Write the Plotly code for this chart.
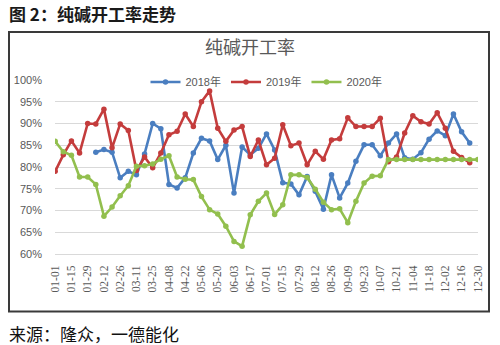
import plotly.graph_objects as go

weeks = ["01-01", "01-08", "01-15", "01-22", "01-29", "02-05", "02-12", "02-19", "02-26",
         "03-04", "03-11", "03-18", "03-25", "04-01", "04-08", "04-15", "04-22", "04-29",
         "05-06", "05-13", "05-20", "05-27", "06-03", "06-10", "06-17", "06-24", "07-01",
         "07-08", "07-15", "07-22", "07-29", "08-05", "08-12", "08-19", "08-26", "09-02",
         "09-09", "09-16", "09-23", "09-30", "10-07", "10-14", "10-21", "10-28", "11-04",
         "11-11", "11-18", "11-25", "12-02", "12-09", "12-16", "12-23", "12-30"]

tick_labels = ["01-01", "01-15", "01-29", "02-12", "02-26", "03-11", "03-25", "04-08", "04-22",
               "05-06", "05-20", "06-03", "06-17", "07-01", "07-15", "07-29", "08-12", "08-26",
               "09-09", "09-23", "10-07", "10-21", "11-04", "11-18", "12-02", "12-16", "12-30"]

rate_2018 = [None, None, None, None, None, 83.4, 84.0, 83.4, 77.5, 79.0, 78.2, 83.0, 90.0,
             88.8, 76.0, 75.2, 77.5, 83.2, 86.6, 86.0, 81.7, 85.0, 74.0, 84.6, 82.8, 84.3,
             87.6, 83.9, 76.4, 76.1, 73.6, 77.8, 74.4, 70.3, 78.2, 72.9, 76.3, 81.3, 85.1,
             85.1, 82.6, 85.5, 87.6, 82.1, 81.8, 83.3, 86.4, 88.3, 87.2, 92.2, 88.1, 85.5]

rate_2019 = [79.0, 82.8, 86.0, 83.2, 90.0, 89.9, 93.3, 84.4, 89.9, 88.4, 79.2, 82.3, 79.8,
             83.2, 87.4, 88.2, 92.2, 89.3, 95.0, 97.5, 88.9, 85.9, 88.5, 89.3, 82.4, 86.2,
             80.5, 82.0, 89.7, 84.9, 85.5, 80.5, 83.6, 81.8, 86.2, 86.5, 91.3, 89.3, 89.3,
             89.3, 91.2, 81.2, 82.3, 87.8, 91.8, 90.4, 89.9, 92.5, 88.9, 83.6, 82.2, 81.0]

rate_2020 = [85.9, 83.5, 82.7, 77.7, 77.7, 76.0, 68.7, 70.8, 73.4, 75.7, 80.2, 80.3, 80.7,
             81.8, 82.6, 77.7, 77.2, 77.1, 73.2, 70.2, 69.2, 66.4, 62.9, 61.8, 69.0, 72.1,
             74.0, 69.1, 71.3, 78.2, 78.2, 77.6, 74.9, 71.9, 70.2, 70.4, 67.2, 72.1, 76.3,
             77.9, 78.0, 81.7, 81.7, 81.7, 81.7, 81.7, 81.7, 81.7, 81.7, 81.7, 81.7, 81.7, 81.7]

series = [("2018年", rate_2018, "#4A7EC0"),
          ("2019年", rate_2019, "#C43C3C"),
          ("2020年", rate_2020, "#92BF4E")]

fig = go.Figure()
for name, vals, color in series:
    fig.add_trace(go.Scatter(
        x=weeks[:len(vals)], y=vals, name=name, mode="lines+markers",
        line=dict(color=color, width=2.6),
        marker=dict(color=color, size=5.5, symbol="circle"),
        connectgaps=False,
    ))

# plot area in pixels: x 55..478, y 80..254.3
L, R, T, B = 55, 478, 80, 254.3
W, H = R - L, B - T

def px(x):
    return (x - L) / W

def py(y):
    return (B - y) / H

gray = "#595959"
fig.update_layout(
    width=500, height=345,
    margin=dict(l=L, r=500 - R, t=T, b=345 - B, pad=0),
    paper_bgcolor="white", plot_bgcolor="white",
    showlegend=True,
    legend=dict(orientation="h", x=0.5, xanchor="center", y=py(82), yanchor="middle",
                bgcolor="rgba(0,0,0,0)", font=dict(family="Liberation Sans, Noto Sans CJK SC",
                                                   size=11, color=gray),
                itemwidth=30, tracegroupgap=0),
    title=dict(text="纯碱开工率", x=0.5, xanchor="center", y=1 - 48 / 345, yanchor="middle",
               font=dict(family="Noto Sans CJK SC", size=18, color=gray)),
    font=dict(family="Liberation Sans", color=gray),
)

fig.update_xaxes(
    type="category", categoryorder="array", categoryarray=weeks,
    range=[-0.02, len(weeks) - 1 + 0.02],
    tickmode="array", tickvals=tick_labels, ticktext=tick_labels,
    tickangle=-90, tickfont=dict(family="Liberation Serif", size=11.5, color=gray),
    showgrid=False, showline=True, linecolor="#D9D9D9", linewidth=1,
    ticks="", zeroline=False, ticklabelstandoff=6,
)
fig.update_yaxes(
    range=[60, 100], dtick=5, tick0=60, ticksuffix="%",
    showgrid=True, gridcolor="#D9D9D9", gridwidth=1,
    tickfont=dict(family="Liberation Sans", size=11, color=gray),
    showline=False, zeroline=False, ticks="", ticklabelstandoff=12,
)

# chart frame
fig.add_shape(type="rect", xref="paper", yref="paper",
              x0=px(9), x1=px(489), y0=py(312), y1=py(32),
              line=dict(color="#3A3A3A", width=2), fillcolor="rgba(0,0,0,0)", layer="below")

fig.add_annotation(text="<b>图 2：纯碱开工率走势</b>", xref="paper", yref="paper",
                   x=px(7), y=py(13), xanchor="left", yanchor="middle", showarrow=False,
                   font=dict(family="Noto Sans CJK SC", size=17, color="#1A1A1A"))
fig.add_annotation(text="来源：隆众，一德能化", xref="paper", yref="paper",
                   x=px(7), y=py(334), xanchor="left", yanchor="middle", showarrow=False,
                   font=dict(family="Noto Sans CJK SC", size=17, color="#111111"))

fig.write_html("out.html")
